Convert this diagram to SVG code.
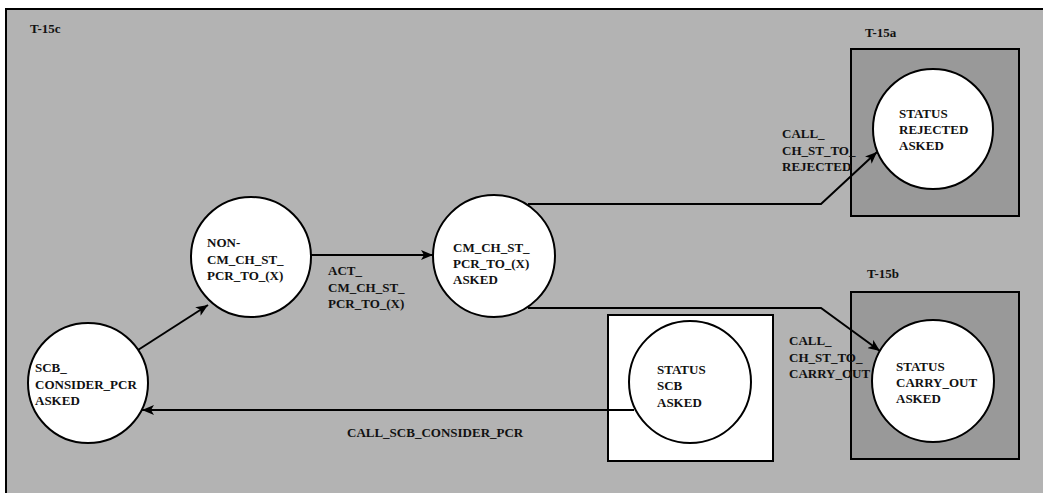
<svg xmlns="http://www.w3.org/2000/svg" width="1043" height="493" viewBox="0 0 1043 493">
<style>
text{font-family:"Liberation Serif","Times New Roman",serif;font-weight:bold;font-size:13px;fill:#111}
.st{fill:#fff;stroke:#000;stroke-width:2}
.box{stroke:#000;stroke-width:2}
.con{fill:none;stroke:#000;stroke-width:2}
</style>
<defs>
<marker id="ah" viewBox="0 0 12 10" refX="12" refY="5" markerWidth="12" markerHeight="10" markerUnits="userSpaceOnUse" orient="auto">
<path d="M0,0 L12,5 L0,10 L3,5 Z" fill="#000"/>
</marker>
</defs>
<rect x="0" y="0" width="1043" height="493" fill="#fff"/>
<g id="frame-T-15c">
<rect x="6" y="9" width="1045" height="495" fill="#b3b3b3" stroke="#000" stroke-width="2"/>
<text x="30" y="33">T-15c</text>
</g>
<g id="container-T-15a">
<rect class="box" x="851" y="49" width="168" height="167" fill="#999"/>
<text x="865" y="37">T-15a</text>
</g>
<g id="container-T-15b">
<rect class="box" x="851" y="292" width="168" height="167" fill="#999"/>
<text x="867" y="278">T-15b</text>
</g>
<g id="container-SCB">
<rect class="box" x="608" y="315" width="165" height="146" fill="#fff"/>
</g>
<g id="connectors">
<line class="con" x1="138" y1="350" x2="208" y2="305" marker-end="url(#ah)"/>
<line class="con" x1="311" y1="255" x2="433" y2="255" marker-end="url(#ah)"/>
<polyline class="con" points="528,204 821,204 877,152" marker-end="url(#ah)"/>
<polyline class="con" points="528,308 821,308 880,351" marker-end="url(#ah)"/>
<line class="con" x1="634" y1="410" x2="142" y2="410" marker-end="url(#ah)"/>
<text x="328" y="275">ACT_</text>
<text x="328" y="291.5">CM_CH_ST_</text>
<text x="328" y="308">PCR_TO_(X)</text>
<text x="782" y="138">CALL_</text>
<text x="782" y="154.5">CH_ST_TO_</text>
<text x="782" y="171">REJECTED</text>
<text x="789" y="345">CALL_</text>
<text x="789" y="361.5">CH_ST_TO_</text>
<text x="789" y="378">CARRY_OUT</text>
<text x="347" y="436.5">CALL_SCB_CONSIDER_PCR</text>
</g>
<g id="node-scb-consider">
<circle class="st" cx="88" cy="383" r="60"/>
<text x="35" y="372">SCB_</text>
<text x="35" y="388.5">CONSIDER_PCR</text>
<text x="35" y="405">ASKED</text>
</g>
<g id="node-non-cm">
<circle class="st" cx="251" cy="257" r="60"/>
<text x="207" y="247">NON-</text>
<text x="207" y="263.5">CM_CH_ST_</text>
<text x="207" y="280">PCR_TO_(X)</text>
</g>
<g id="node-cm-asked">
<circle class="st" cx="494" cy="256" r="61"/>
<text x="453" y="252">CM_CH_ST_</text>
<text x="453" y="268">PCR_TO_(X)</text>
<text x="453" y="284">ASKED</text>
</g>
<g id="node-status-scb">
<circle class="st" cx="690" cy="382" r="61"/>
<text x="657" y="374">STATUS</text>
<text x="657" y="390">SCB</text>
<text x="657" y="406.5">ASKED</text>
</g>
<g id="node-status-rejected">
<circle class="st" cx="933" cy="129" r="60"/>
<text x="899" y="118">STATUS</text>
<text x="899" y="134">REJECTED</text>
<text x="899" y="150">ASKED</text>
</g>
<g id="node-status-carry-out">
<circle class="st" cx="933" cy="381" r="61"/>
<text x="896" y="370.5">STATUS</text>
<text x="896" y="387">CARRY_OUT</text>
<text x="896" y="403">ASKED</text>
</g>
</svg>
